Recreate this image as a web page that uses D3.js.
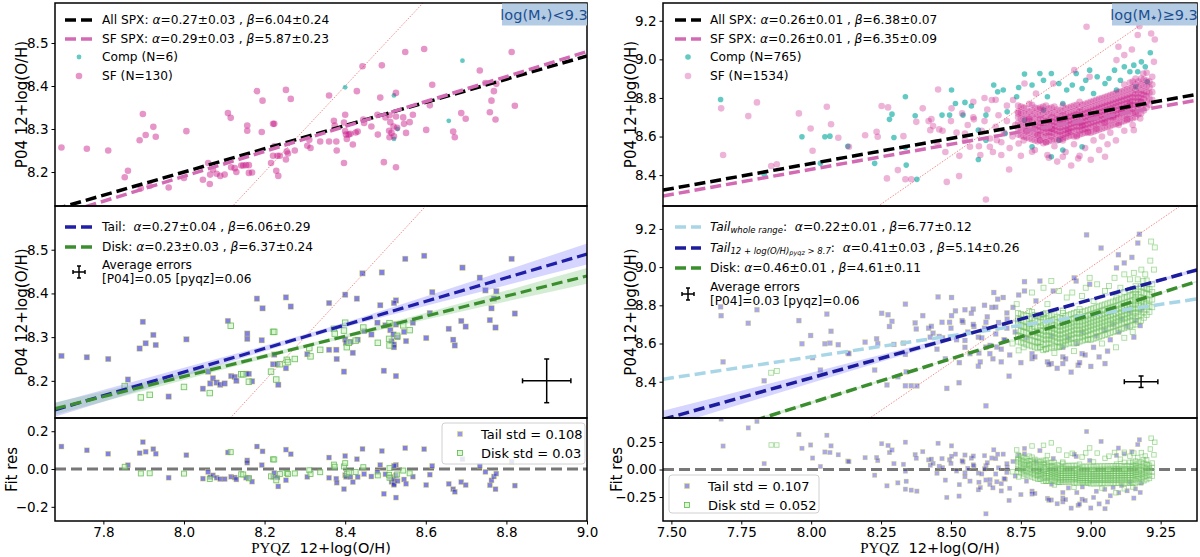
<!DOCTYPE html>
<html>
<head>
<meta charset="utf-8">
<script src="https://cdn.jsdelivr.net/npm/d3@7"></script>
<style>
body { margin: 0; background: #fff; }
svg { font-family: "DejaVu Sans", Verdana, sans-serif; }
</style>
</head>
<body>
<svg id="chart" width="1200" height="557"></svg>
<script>
// ---- fits: [alpha, alpha err, beta, beta err] ----
const leftFitAll = [0.27, 0.03, 6.04, 0.24];
const leftFitSF = [0.29, 0.03, 5.87, 0.23];
const leftFitTail = [0.27, 0.04, 6.06, 0.29];
const leftFitDisk = [0.23, 0.03, 6.37, 0.24];
const rightFitAll = [0.26, 0.01, 6.38, 0.07];
const rightFitSF = [0.26, 0.01, 6.35, 0.09];
const rightFitTailAll = [0.22, 0.01, 6.77, 0.12];
const rightFitTail = [0.41, 0.03, 5.14, 0.26];
const rightFitDisk = [0.46, 0.01, 4.61, 0.11];

const leftCounts = [6, 130];     // Comp, SF
const rightCounts = [765, 1534];
const leftErrors = [0.05, 0.06]; // [P04], [pyqz]
const rightErrors = [0.03, 0.06];
const leftStd = [0.108, 0.03];   // tail, disk
const rightStd = [0.107, 0.052];

// confidence bands (half widths)
const leftBandX = [7.68, 8.0, 8.35, 8.7, 9.0];
const leftTailBand = [0.016, 0.010, 0.005, 0.014, 0.024];
const leftDiskBand = [0.014, 0.008, 0.004, 0.010, 0.018];
const rightBandX = [7.47, 7.9, 8.3, 8.7, 9.0, 9.38];
const rightTailBand = [0.045, 0.030, 0.016, 0.006, 0.004, 0.010];
const rightDiskBand = [0.012, 0.008, 0.004, 0.002, 0.002, 0.004];

// tick labels
const leftXTicks = [7.8, 8.0, 8.2, 8.4, 8.6, 8.8, 9.0];
const leftYTicks = [8.2, 8.3, 8.4, 8.5];
const leftResTicks = [-0.2, 0, 0.2];
const rightXTicks = [7.5, 7.75, 8.0, 8.25, 8.5, 8.75, 9.0, 9.25];
const rightYTicks = [8.4, 8.6, 8.8, 9.0, 9.2];
const rightResTicks = [-0.25, 0, 0.25];

// ---- left spaxels: [pyqz, P04, S=SF / C=Comp, T=tail / D=disk] ----
const leftPts = [
[7.696,8.257,'S','T'],[7.759,8.254,'S','T'],[7.812,8.250,'S','T'],[7.898,8.335,'S','T'],[7.890,8.274,'S','T'],[7.905,8.286,'S','T'],[7.924,8.305,'S','T'],[7.930,8.282,'S','T'],[7.853,8.188,'S','D'],[7.861,8.203,'S','T'],
[7.893,8.162,'S','D'],[7.915,8.168,'S','D'],[7.962,8.164,'S','T'],[8.006,8.295,'S','T'],[8.000,8.186,'S','D'],[8.047,8.182,'S','T'],[8.060,8.221,'S','T'],[8.065,8.194,'S','T'],[8.064,8.172,'S','D'],[8.072,8.206,'S','T'],
[8.081,8.196,'S','T'],[8.090,8.191,'S','T'],[8.101,8.194,'S','T'],[8.109,8.337,'S','T'],[8.116,8.326,'S','D'],[8.117,8.211,'S','T'],[8.126,8.209,'S','T'],[8.130,8.200,'S','T'],[8.142,8.215,'S','D'],[8.147,8.215,'S','D'],
[8.154,8.216,'S','T'],[8.157,8.308,'S','T'],[8.157,8.296,'S','T'],[8.161,8.198,'S','D'],[8.161,8.216,'S','T'],[8.169,8.199,'S','T'],[8.181,8.388,'S','T'],[8.195,8.366,'S','T'],[8.193,8.293,'S','T'],[8.216,8.221,'S','D'],
[8.221,8.312,'S','D'],[8.224,8.312,'S','D'],[8.221,8.238,'S','T'],[8.229,8.203,'S','D'],[8.234,8.191,'S','T'],[8.224,8.260,'S','T'],[8.232,8.238,'S','T'],[8.238,8.238,'S','D'],[8.253,8.391,'S','T'],[8.265,8.370,'S','T'],
[8.255,8.248,'S','D'],[8.258,8.243,'S','D'],[8.253,8.229,'S','T'],[8.275,8.250,'S','D'],[8.306,8.261,'S','T'],[8.314,8.256,'S','D'],[8.311,8.275,'S','D'],[8.338,8.271,'S','D'],[8.360,8.378,'S','T'],[8.360,8.271,'S','T'],
[8.372,8.319,'S','D'],[8.374,8.308,'S','D'],[8.378,8.271,'S','T'],[8.379,8.250,'S','T'],[8.397,8.315,'S','D'],[8.397,8.221,'S','T'],[8.400,8.333,'S','D'],[8.400,8.295,'S','T'],[8.402,8.287,'S','T'],[8.404,8.277,'S','D'],
[8.409,8.287,'S','D'],[8.413,8.289,'S','T'],[8.419,8.264,'S','T'],[8.426,8.292,'S','D'],[8.429,8.388,'S','T'],[8.431,8.294,'S','T'],[8.443,8.446,'S','T'],[8.445,8.322,'S','D'],[8.447,8.314,'S','T'],[8.465,8.306,'S','T'],
[8.481,8.287,'S','D'],[8.480,8.333,'S','T'],[8.487,8.373,'S','T'],[8.491,8.448,'S','T'],[8.496,8.223,'S','T'],[8.500,8.327,'S','T'],[8.509,8.296,'S','D'],[8.510,8.332,'S','D'],[8.512,8.316,'S','T'],[8.510,8.281,'S','D'],
[8.515,8.291,'S','T'],[8.520,8.306,'S','T'],[8.521,8.283,'S','T'],[8.526,8.384,'S','T'],[8.526,8.329,'S','T'],[8.526,8.211,'S','T'],[8.529,8.303,'S','D'],[8.544,8.327,'S','D'],[8.546,8.312,'S','T'],[8.549,8.479,'S','T'],
[8.551,8.291,'S','T'],[8.560,8.316,'S','D'],[8.568,8.333,'S','T'],[8.596,8.486,'S','T'],[8.601,8.298,'S','T'],[8.610,8.355,'S','T'],[8.616,8.403,'S','T'],[8.668,8.294,'S','T'],[8.672,8.281,'S','T'],[8.688,8.337,'S','T'],
[8.699,8.324,'S','T'],[8.734,8.436,'S','T'],[8.748,8.407,'S','T'],[8.759,8.339,'S','T'],[8.763,8.366,'S','T'],[8.769,8.388,'S','T'],[8.773,8.322,'S','T'],[8.775,8.405,'S','T'],[8.813,8.479,'S','T'],[8.821,8.354,'S','T'],
[8.400,8.397,'C','T'],[8.521,8.378,'C','T'],[8.521,8.277,'C','T'],[8.657,8.319,'C','T'],[8.691,8.459,'C','T'],[8.530,8.300,'C','T']
];

// ---- right spaxels ----
const rightComp = [
[7.676,8.792,'T'],[7.832,8.405,'T'],[7.967,8.599,'T'],[8.033,8.461,'T'],[8.049,8.599,'T'],[8.067,8.602,'T'],[8.131,8.550,'T'],[8.227,8.461,'T'],[8.280,8.689,'T'],[8.289,8.716,'T'],
[8.296,8.595,'T'],[8.337,8.806,'T'],[8.337,8.543,'T'],[8.340,8.452,'T'],[8.372,8.708,'T'],[8.378,8.378,'T'],[8.468,8.711,'T'],[8.502,8.841,'T'],[8.516,8.771,'T'],[8.495,8.711,'T'],
[8.543,8.711,'T'],[8.550,8.777,'T'],[8.573,8.758,'T'],[8.598,8.481,'T'],[8.625,8.711,'T'],[8.653,8.867,'T'],[8.667,8.832,'T'],[8.687,8.841,'T'],[8.701,8.728,'T'],[8.735,8.806,'D'],
[8.742,8.854,'T'],[8.763,8.924,'T'],[8.790,8.867,'D'],[8.818,8.927,'T'],[8.831,8.892,'D'],[8.845,8.806,'D'],[8.859,8.927,'D'],[8.886,8.875,'D'],[8.914,8.841,'D'],[8.934,8.867,'D'],
[8.948,8.927,'T'],[8.969,8.849,'D'],[8.982,8.892,'D'],[8.996,8.944,'D'],[9.023,8.910,'D'],[9.051,8.875,'D'],[9.065,8.901,'D'],[9.085,8.944,'D'],[9.106,8.892,'D'],[9.120,8.962,'D'],
[9.140,8.936,'D'],[9.154,8.970,'D'],[9.168,8.936,'D'],[9.181,8.987,'D'],[9.195,8.962,'D'],[9.213,9.034,'D'],[9.202,8.884,'D'],[9.161,8.858,'D'],[9.092,8.841,'D'],[9.010,8.823,'D'],
[8.900,8.771,'D'],[8.831,8.737,'D'],[8.763,8.685,'D'],[8.694,8.616,'T'],[8.625,8.581,'T'],[8.790,8.547,'T'],[8.859,8.495,'T'],[8.900,8.530,'T'],[8.969,8.547,'T'],[8.886,8.581,'D'],
[8.598,8.633,'T']
];
const rightSF = [
[7.678,8.746,'T'],[7.685,8.504,'T'],[7.775,8.706,'T'],[7.806,8.777,'T'],[7.857,8.447,'D'],[7.877,8.456,'D'],[7.956,8.720,'T'],[7.998,8.642,'T'],[8.005,8.526,'T'],[8.056,8.754,'T'],
[8.071,8.664,'T'],[8.097,8.594,'T'],[8.135,8.547,'T'],[8.193,8.607,'T'],[8.234,8.625,'T'],[8.238,8.599,'T'],[8.252,8.758,'T'],[8.275,8.751,'T'],[8.271,8.383,'T'],[8.310,8.426,'T'],
[8.330,8.602,'T'],[8.337,8.379,'T'],[8.358,8.379,'T'],[8.376,8.676,'T'],[8.399,8.746,'T'],[8.420,8.680,'T'],[8.426,8.633,'T'],[8.436,8.654,'T'],[8.454,8.844,'T'],[8.458,8.637,'T'],
[8.485,8.365,'T'],[8.502,8.746,'T'],[8.529,8.395,'T'],[8.550,8.616,'T'],[8.568,8.547,'T'],[8.582,8.689,'T'],[8.605,8.504,'T'],[8.625,8.274,'T'],[8.639,8.547,'T'],[8.646,8.789,'T'],
[8.664,8.581,'T'],[8.680,8.504,'T'],[8.708,8.429,'T'],[8.722,8.789,'T'],[8.742,8.564,'D'],[8.763,8.875,'T'],[8.790,8.521,'T'],[8.804,8.823,'T'],[8.818,8.581,'D'],[8.845,8.504,'T'],
[8.866,8.875,'T'],[8.900,8.495,'T'],[8.941,8.944,'T'],[8.955,8.486,'T'],[8.985,9.169,'T'],[8.996,8.910,'T'],[9.037,9.100,'T'],[9.051,8.495,'T'],[9.092,8.996,'T'],[9.099,9.065,'T'],
[9.120,9.022,'T'],[9.147,9.051,'T'],[9.154,8.633,'T'],[9.168,9.126,'T'],[9.174,9.172,'T'],[9.188,8.927,'D'],[9.216,9.134,'D'],[9.229,9.103,'D'],[9.226,8.987,'D'],[9.177,8.694,'T'],
[8.52,8.62,'T'],[8.55,8.58,'T'],[8.56,8.66,'T'],[8.58,8.70,'T'],[8.60,8.55,'T'],[8.61,8.63,'T'],[8.62,8.68,'T'],[8.63,8.74,'T'],[8.64,8.59,'T'],[8.65,8.52,'T'],
[8.66,8.65,'T'],[8.67,8.71,'T'],[8.68,8.57,'T'],[8.69,8.62,'T'],[8.70,8.68,'T'],[8.70,8.76,'T'],[8.71,8.54,'T'],[8.72,8.60,'D'],[8.73,8.66,'T'],[8.74,8.72,'D'],
[8.75,8.50,'T'],[8.76,8.58,'D'],[8.77,8.63,'T'],[8.78,8.69,'D'],[8.80,8.53,'T'],[8.81,8.61,'D'],[8.82,8.75,'T'],[8.84,8.57,'D'],[8.85,8.49,'T'],[8.86,8.64,'T'],
[8.87,8.55,'D'],[8.88,8.47,'T'],[8.90,8.58,'T'],[8.91,8.52,'T'],[8.92,8.63,'T'],[8.93,8.45,'T'],[8.94,8.56,'D'],[8.95,8.60,'T'],[8.96,8.50,'T'],[8.97,8.66,'T'],
[8.98,8.54,'T'],[8.99,8.62,'D'],[9.00,8.48,'T'],[9.01,8.58,'T'],[9.02,8.64,'T'],[9.03,8.53,'T'],[9.04,8.60,'D'],[9.05,8.67,'T'],[9.06,8.56,'T'],[9.07,8.62,'T'],
[9.08,8.70,'T'],[9.09,8.58,'D'],[9.10,8.66,'T'],[9.11,8.73,'T'],[9.12,8.63,'D'],[9.13,8.69,'T'],[9.14,8.77,'T'],[9.15,8.66,'D'],[9.16,8.72,'T'],[9.18,8.78,'T'],
[8.58,8.78,'T'],[8.62,8.80,'T'],[8.66,8.79,'T'],[8.54,8.72,'T'],[8.50,8.68,'T'],[8.47,8.63,'T'],[8.45,8.57,'T'],[8.43,8.69,'T'],[8.48,8.52,'T'],[8.53,8.50,'T']
];
// dense SF disk core: pyqz column -> P04 values
const rightCore = [
[8.74,[8.61,8.64,8.67,8.70,8.73,8.76]],
[8.75,[8.605,8.635,8.665,8.695,8.725,8.755]],
[8.76,[8.60,8.63,8.66,8.69,8.72,8.75]],
[8.77,[8.595,8.625,8.655,8.685,8.715,8.745]],
[8.78,[8.59,8.62,8.65,8.68,8.70,8.73,8.77]],
[8.79,[8.585,8.615,8.645,8.675,8.705,8.735,8.765]],
[8.80,[8.58,8.61,8.64,8.66,8.69,8.72,8.75]],
[8.81,[8.575,8.605,8.635,8.655,8.685,8.715,8.745]],
[8.82,[8.58,8.61,8.63,8.65,8.67,8.69,8.71,8.74]],
[8.83,[8.565,8.595,8.625,8.645,8.665,8.695,8.725,8.755]],
[8.84,[8.57,8.60,8.62,8.64,8.66,8.68,8.70,8.73,8.76]],
[8.85,[8.575,8.605,8.625,8.645,8.665,8.685,8.715,8.745]],
[8.86,[8.58,8.60,8.62,8.64,8.66,8.68,8.70,8.72,8.75]],
[8.87,[8.585,8.615,8.635,8.655,8.675,8.695,8.725,8.755]],
[8.88,[8.58,8.61,8.63,8.65,8.67,8.69,8.71,8.74]],
[8.89,[8.585,8.605,8.625,8.645,8.665,8.685,8.705,8.735]],
[8.90,[8.59,8.61,8.63,8.65,8.67,8.69,8.71,8.73,8.76]],
[8.91,[8.595,8.615,8.635,8.655,8.675,8.695,8.715,8.745]],
[8.92,[8.60,8.62,8.64,8.66,8.68,8.70,8.72,8.75]],
[8.93,[8.605,8.625,8.645,8.665,8.685,8.705,8.725,8.755]],
[8.94,[8.60,8.63,8.65,8.67,8.69,8.71,8.73,8.76]],
[8.95,[8.605,8.635,8.655,8.675,8.695,8.715,8.735,8.765]],
[8.96,[8.61,8.63,8.65,8.67,8.69,8.71,8.73,8.75,8.78]],
[8.97,[8.615,8.635,8.655,8.675,8.695,8.715,8.735,8.765]],
[8.98,[8.62,8.64,8.66,8.68,8.70,8.72,8.74,8.77]],
[8.99,[8.625,8.645,8.665,8.685,8.705,8.725,8.745,8.775]],
[9.00,[8.62,8.65,8.67,8.69,8.71,8.73,8.75,8.78]],
[9.01,[8.625,8.655,8.675,8.695,8.715,8.735,8.755,8.785]],
[9.02,[8.63,8.66,8.68,8.70,8.72,8.74,8.76,8.79]],
[9.03,[8.635,8.665,8.685,8.705,8.725,8.745,8.765,8.795]],
[9.04,[8.64,8.67,8.69,8.71,8.73,8.75,8.77,8.80]],
[9.05,[8.645,8.675,8.695,8.715,8.735,8.755,8.775,8.805]],
[9.06,[8.65,8.68,8.70,8.72,8.74,8.76,8.78,8.81]],
[9.07,[8.655,8.685,8.705,8.725,8.745,8.765,8.785,8.815]],
[9.08,[8.66,8.69,8.71,8.73,8.75,8.77,8.79,8.82]],
[9.09,[8.665,8.695,8.715,8.735,8.755,8.775,8.795,8.825]],
[9.10,[8.67,8.70,8.72,8.74,8.76,8.78,8.80,8.83]],
[9.11,[8.675,8.705,8.725,8.745,8.765,8.785,8.805,8.835]],
[9.12,[8.68,8.71,8.73,8.75,8.77,8.79,8.81,8.84,8.87]],
[9.13,[8.685,8.715,8.735,8.755,8.775,8.795,8.815,8.845]],
[9.14,[8.69,8.72,8.74,8.76,8.78,8.80,8.82,8.85,8.88]],
[9.15,[8.695,8.725,8.745,8.765,8.785,8.805,8.825,8.855,8.885]],
[9.16,[8.70,8.73,8.76,8.78,8.80,8.82,8.84,8.87,8.90]],
[9.17,[8.715,8.745,8.765,8.785,8.805,8.825,8.855,8.885]],
[9.18,[8.72,8.75,8.78,8.80,8.82,8.84,8.87,8.90]],
[9.19,[8.735,8.765,8.795,8.815,8.835,8.865,8.895]],
[9.20,[8.75,8.78,8.81,8.83,8.86,8.89,8.93]],
[9.21,[8.765,8.795,8.825,8.855,8.885]],
[9.22,[8.79,8.83,8.87,8.91]]
];

// ---- layout ----
const svg = d3.select('#chart');
const defs = svg.append('defs');
const rows = [[3, 206], [206, 418], [418, 521]];
const xL = d3.scaleLinear().domain([7.68, 9.0]).range([55, 587]);
const xR = d3.scaleLinear().domain([7.47, 9.38]).range([663, 1197]);

const pink = '#c71585', teal = '#20b2aa';
const tailFill = '#3333cc', tailEdge = '#e6e05a';
const diskEdge = '#5cb84e', diskFill = '#c8f0bc';
const legendSize = 12.2;
let clipN = 0;

function panel(x, yDom, row) {
  const r = rows[row];
  const y = d3.scaleLinear().domain(yDom).range([r[1], r[0]]);
  const id = 'clip' + (clipN++);
  defs.append('clipPath').attr('id', id).append('rect')
    .attr('x', x.range()[0]).attr('y', r[0])
    .attr('width', x.range()[1] - x.range()[0]).attr('height', r[1] - r[0]);
  const g = svg.append('g');
  const plot = g.append('g').attr('clip-path', `url(#${id})`);
  return { x, y, g, plot, r };
}

function frame(p) {
  p.g.append('rect')
    .attr('x', p.x.range()[0]).attr('y', p.r[0])
    .attr('width', p.x.range()[1] - p.x.range()[0]).attr('height', p.r[1] - p.r[0])
    .attr('fill', 'none').attr('stroke', '#000').attr('stroke-width', 1.5);
}

function yAxis(p, ticks, fmt) {
  const a = p.g.append('g').attr('transform', `translate(${p.x.range()[0]},0)`)
    .call(d3.axisLeft(p.y).tickValues(ticks).tickFormat(d3.format(fmt)).tickSize(3.5).tickPadding(3));
  a.select('.domain').remove();
  a.attr('font-size', 13.5).attr('font-family', null);
  a.selectAll('line').attr('stroke-width', 1);
}

function xAxis(p, ticks, fmt) {
  const a = p.g.append('g').attr('transform', `translate(0,${p.r[1]})`)
    .call(d3.axisBottom(p.x).tickValues(ticks).tickFormat(d3.format(fmt)).tickSize(3.5).tickPadding(3));
  a.select('.domain').remove();
  a.attr('font-size', 13.5).attr('font-family', null);
}

function yLabel(p, text, cx) {
  p.g.append('text')
    .attr('transform', `translate(${cx},${(p.r[0] + p.r[1]) / 2}) rotate(-90)`)
    .attr('text-anchor', 'middle').attr('dominant-baseline', 'central')
    .attr('font-size', 15).text(text);
}

function xLabel(p) {
  const t = p.g.append('text')
    .attr('x', (p.x.range()[0] + p.x.range()[1]) / 2).attr('y', 553)
    .attr('text-anchor', 'middle').attr('font-size', 14.5).style('white-space', 'pre');
  t.append('tspan').attr('font-family', '"Liberation Serif", "DejaVu Serif", serif').attr('font-size', 15).text('PYQZ');
  t.append('tspan').text('  12+log(O/H)');
}

function fitLine(p, f, color, width) {
  const d = p.x.domain();
  p.plot.append('path')
    .datum(d)
    .attr('d', d3.line().x(v => p.x(v)).y(v => p.y(f[0] * v + f[2])))
    .attr('fill', 'none').attr('stroke', color).attr('stroke-width', width)
    .attr('stroke-dasharray', '11,5');
}

function band(p, f, bx, hw, color, op) {
  const pts = bx.map((v, i) => [v, hw[i]]);
  p.plot.append('path')
    .datum(pts)
    .attr('d', d3.area().curve(d3.curveMonotoneX)
      .x(d => p.x(d[0]))
      .y0(d => p.y(f[0] * d[0] + f[2] - d[1]))
      .y1(d => p.y(f[0] * d[0] + f[2] + d[1])))
    .attr('fill', color).attr('opacity', op);
}

function oneToOne(p) {
  const d = p.x.domain();
  p.plot.append('line')
    .attr('x1', p.x(d[0])).attr('y1', p.y(d[0]))
    .attr('x2', p.x(d[1])).attr('y2', p.y(d[1]))
    .attr('stroke', '#f07070').attr('stroke-width', 0.8).attr('stroke-dasharray', '1.5,1.5');
}

function dots(p, pts, color, op, r) {
  p.plot.append('g').selectAll('circle').data(pts).join('circle')
    .attr('cx', d => p.x(d[0])).attr('cy', d => p.y(d[1]))
    .attr('r', r).attr('fill', color).attr('fill-opacity', op);
}

function squares(p, pts, yv, style, s) {
  p.plot.append('g').selectAll('rect').data(pts).join('rect')
    .attr('x', d => p.x(d[0]) - s / 2).attr('y', d => p.y(yv(d)) - s / 2)
    .attr('width', s).attr('height', s)
    .attr('fill', style.fill).attr('fill-opacity', style.fo)
    .attr('stroke', style.stroke).attr('stroke-opacity', style.so).attr('stroke-width', style.sw);
}

function zeroLine(p) {
  const d = p.x.domain();
  p.plot.append('line')
    .attr('x1', p.x(d[0])).attr('x2', p.x(d[1]))
    .attr('y1', p.y(0)).attr('y2', p.y(0))
    .attr('stroke', '#777').attr('stroke-width', 3).attr('stroke-dasharray', '11,5');
}

function errCross(g, cx, cy, hx, hy, cap, w) {
  const L = (x1, y1, x2, y2) => g.append('line')
    .attr('x1', x1).attr('y1', y1).attr('x2', x2).attr('y2', y2)
    .attr('stroke', '#000').attr('stroke-width', w);
  L(cx - hx, cy, cx + hx, cy);
  L(cx, cy - hy, cx, cy + hy);
  L(cx - hx, cy - cap, cx - hx, cy + cap);
  L(cx + hx, cy - cap, cx + hx, cy + cap);
  L(cx - cap, cy - hy, cx + cap, cy - hy);
  L(cx - cap, cy + hy, cx + cap, cy + hy);
}

function addPart(parent, part) {
  if (typeof part === 'string') { parent.append('tspan').text(part); return; }
  const s = parent.append('tspan');
  if (part.it) s.attr('font-style', 'italic');
  if (part.sub) s.attr('baseline-shift', part.sub).attr('font-size', part.size);
  if (part.kids) part.kids.forEach(k => addPart(s, k)); else s.text(part.t);
}

function rich(g, x, y, parts, size) {
  const t = g.append('text').attr('x', x).attr('y', y).attr('font-size', size)
    .attr('dominant-baseline', 'central').style('white-space', 'pre');
  parts.forEach(pt => addPart(t, pt));
  return t;
}

function fitParts(name, f) {
  return name.concat([{ t: 'α', it: true }, `=${f[0].toFixed(2)}±${f[1].toFixed(2)} , `,
    { t: 'β', it: true }, `=${f[2].toFixed(2)}±${f[3].toFixed(2)}`]);
}

function legLine(g, x1, x2, y, color) {
  g.append('line').attr('x1', x1).attr('x2', x2).attr('y1', y).attr('y2', y)
    .attr('stroke', color).attr('stroke-width', 3.5).attr('stroke-dasharray', '11,5');
}

function massTag(p, parts) {
  const x1 = p.x.range()[1];
  p.g.append('rect').attr('x', x1 - 85).attr('y', p.r[0] + 0.5).attr('width', 85).attr('height', 22)
    .attr('fill', '#b3cbe3');
  rich(p.g, x1 - 43, p.r[0] + 12, parts, 14.5).attr('text-anchor', 'middle').attr('fill', '#1d4f91');
}

function stdLegend(p, bx, by, bw, bh, std) {
  const g = p.g;
  g.append('rect').attr('x', bx).attr('y', by).attr('width', bw).attr('height', bh).attr('rx', 3)
    .attr('fill', '#fff').attr('fill-opacity', 0.8).attr('stroke', '#d0d0d0');
  const mx = bx + 18, tx = bx + 39;
  g.append('rect').attr('x', mx - 2.5).attr('y', by + 11 - 2.5).attr('width', 5).attr('height', 5)
    .attr('fill', tailFill).attr('fill-opacity', 0.5).attr('stroke', tailEdge).attr('stroke-width', 0.5);
  g.append('rect').attr('x', mx - 2.5).attr('y', by + 30 - 2.5).attr('width', 5).attr('height', 5)
    .attr('fill', diskFill).attr('fill-opacity', 0.6).attr('stroke', diskEdge).attr('stroke-width', 0.8);
  rich(g, tx, by + 11, [`Tail std = ${std[0]}`], 13);
  rich(g, tx, by + 30, [`Disk std = ${std[1]}`], 13);
}

const resid = f => d => d[1] - (f[0] * d[0] + f[2]);

// =================== LEFT FIGURE ===================
const lt = panel(xL, [8.121, 8.593], 0);
const lm = panel(xL, [8.115, 8.60], 1);
const lb = panel(xL, [-0.275, 0.27], 2);

// top: all spaxels by class
oneToOne(lt);
dots(lt, leftPts.filter(d => d[2] === 'C'), teal, 0.7, 2.4);
dots(lt, leftPts.filter(d => d[2] === 'S'), pink, 0.45, 3.3);
fitLine(lt, leftFitAll, '#000', 3.5);
fitLine(lt, leftFitSF, '#d36bb4', 3.5);

// middle: tail vs disk
const tailStyleL = { fill: tailFill, fo: 0.62, stroke: tailEdge, so: 0.7, sw: 0.6 };
const diskStyleL = { fill: diskFill, fo: 0.5, stroke: diskEdge, so: 0.8, sw: 0.9 };
oneToOne(lm);
const lTail = leftPts.filter(d => d[3] === 'T'), lDisk = leftPts.filter(d => d[3] === 'D');
squares(lm, lTail, d => d[1], tailStyleL, 5.5);
squares(lm, lDisk, d => d[1], diskStyleL, 5.5);
band(lm, leftFitTail, leftBandX, leftTailBand, '#7373ff', 0.3);
band(lm, leftFitDisk, leftBandX, leftDiskBand, '#6fbf6f', 0.3);
fitLine(lm, leftFitTail, '#1f1fa8', 3.2);
fitLine(lm, leftFitDisk, '#3b8e2e', 3.2);
errCross(lm.g, lm.x(8.9), lm.y(8.2), lm.x(8.9 + leftErrors[1]) - lm.x(8.9), lm.y(8.2) - lm.y(8.2 + leftErrors[0]), 2.5, 1.5);

// bottom: residuals
zeroLine(lb);
squares(lb, lTail, resid(leftFitTail), tailStyleL, 5);
squares(lb, lDisk, resid(leftFitDisk), diskStyleL, 5);

[lt, lm, lb].forEach(frame);
yAxis(lt, leftYTicks, '.1f');
yAxis(lm, leftYTicks, '.1f');
yAxis(lb, leftResTicks, '.1f');
xAxis(lb, leftXTicks, '.1f');
yLabel(lt, 'P04 12+log(O/H)', 22);
yLabel(lm, 'P04 12+log(O/H)', 22);
yLabel(lb, 'Fit res', 12);
xLabel(lb);

// legends
legLine(lt.g, 65, 92, 20, '#000');
rich(lt.g, 102, 20, fitParts(['All SPX: '], leftFitAll), legendSize);
legLine(lt.g, 65, 92, 39, '#d36bb4');
rich(lt.g, 102, 39, fitParts(['SF SPX: '], leftFitSF), legendSize);
lt.g.append('circle').attr('cx', 79).attr('cy', 57).attr('r', 2.4).attr('fill', teal).attr('fill-opacity', 0.7);
rich(lt.g, 102, 57, [`Comp (N=${leftCounts[0]})`], legendSize);
lt.g.append('circle').attr('cx', 79).attr('cy', 76).attr('r', 3.3).attr('fill', pink).attr('fill-opacity', 0.45);
rich(lt.g, 102, 76, [`SF (N=${leftCounts[1]})`], legendSize);
massTag(lt, ['log(M', { t: '★', sub: -3, size: 7 }, ')<9.3']);

legLine(lm.g, 65, 92, 227, '#1f1fa8');
rich(lm.g, 102, 227, fitParts(['Tail:  '], leftFitTail), legendSize);
legLine(lm.g, 65, 92, 247, '#3b8e2e');
rich(lm.g, 102, 247, fitParts(['Disk: '], leftFitDisk), legendSize);
errCross(lm.g, 79, 272, 6, 6, 2, 1.5);
rich(lm.g, 102, 265, ['Average errors'], legendSize);
rich(lm.g, 102, 279, [`[P04]=${leftErrors[0].toFixed(2)} [pyqz]=${leftErrors[1].toFixed(2)}`], legendSize);

stdLegend(lb, 442, 423, 143, 41, leftStd);

// =================== RIGHT FIGURE ===================
const rt = panel(xR, [8.24, 9.292], 0);
const rm = panel(xR, [8.21, 9.32], 1);
const rb = panel(xR, [-0.468, 0.468], 2);

const coreTable = [];
rightCore.forEach(c => c[1].forEach(v => coreTable.push([c[0], v, 'D'])));
const rSFAll = rightSF.concat(coreTable);
const rAll = rightComp.concat(rSFAll);
const rTail = rAll.filter(d => d[2] === 'T');
const rDisk = rAll.filter(d => d[2] === 'D');

oneToOne(rt);
dots(rt, rightComp, teal, 0.7, 2.8);
dots(rt, rSFAll, pink, 0.32, 3.3);
fitLine(rt, rightFitAll, '#000', 3.5);
fitLine(rt, rightFitSF, '#d36bb4', 3.5);

const tailStyleR = { fill: tailFill, fo: 0.42, stroke: tailEdge, so: 0.6, sw: 0.5 };
const diskStyleR = { fill: diskFill, fo: 0.2, stroke: diskEdge, so: 0.55, sw: 0.8 };
oneToOne(rm);
squares(rm, rTail, d => d[1], tailStyleR, 5);
squares(rm, rDisk, d => d[1], diskStyleR, 5);
band(rm, rightFitTail, rightBandX, rightTailBand, '#7373ff', 0.3);
band(rm, rightFitDisk, rightBandX, rightDiskBand, '#6fbf6f', 0.3);
fitLine(rm, rightFitTailAll, '#a8d6e6', 3.5);
fitLine(rm, rightFitTail, '#1c1c9c', 3.5);
fitLine(rm, rightFitDisk, '#3b8e2e', 3.5);
errCross(rm.g, rm.x(9.18), rm.y(8.4), rm.x(9.18 + rightErrors[1]) - rm.x(9.18), rm.y(8.4) - rm.y(8.4 + rightErrors[0]), 2.5, 1.5);

zeroLine(rb);
squares(rb, rTail, resid(rightFitTail), tailStyleR, 4.5);
squares(rb, rDisk, resid(rightFitDisk), diskStyleR, 4.5);

[rt, rm, rb].forEach(frame);
yAxis(rt, rightYTicks, '.1f');
yAxis(rm, rightYTicks, '.1f');
yAxis(rb, rightResTicks, '.2f');
xAxis(rb, rightXTicks, '.2f');
yLabel(rt, 'P04 12+log(O/H)', 631);
yLabel(rm, 'P04 12+log(O/H)', 631);
yLabel(rb, 'Fit res', 617);
xLabel(rb);

legLine(rt.g, 675, 701, 20, '#000');
rich(rt.g, 710, 20, fitParts(['All SPX: '], rightFitAll), legendSize);
legLine(rt.g, 675, 701, 39, '#d36bb4');
rich(rt.g, 710, 39, fitParts(['SF SPX: '], rightFitSF), legendSize);
rt.g.append('circle').attr('cx', 688).attr('cy', 57).attr('r', 2.8).attr('fill', teal).attr('fill-opacity', 0.7);
rich(rt.g, 710, 57, [`Comp (N=${rightCounts[0]})`], legendSize);
rt.g.append('circle').attr('cx', 688).attr('cy', 76).attr('r', 3.3).attr('fill', pink).attr('fill-opacity', 0.3);
rich(rt.g, 710, 76, [`SF (N=${rightCounts[1]})`], legendSize);
massTag(rt, ['log(M', { t: '★', sub: -3, size: 7 }, ')≥9.3']);

legLine(rm.g, 675, 701, 227, '#a8d6e6');
rich(rm.g, 710, 227, fitParts([{ t: 'Tail', it: true }, { t: 'whole range', it: true, sub: -3, size: 8.5 }, ':  '], rightFitTailAll), legendSize);
legLine(rm.g, 675, 701, 248, '#1c1c9c');
rich(rm.g, 710, 248, fitParts([{ t: 'Tail', it: true },
  { it: true, sub: -3, size: 8.5, kids: ['12 + log(O/H)', { t: 'pyqz', sub: -2, size: 6.5 }, ' > 8.7'] }, ':  '], rightFitTail), legendSize);
legLine(rm.g, 675, 701, 268, '#3b8e2e');
rich(rm.g, 710, 268, fitParts(['Disk: '], rightFitDisk), legendSize);
errCross(rm.g, 688, 294, 6, 6, 2, 1.5);
rich(rm.g, 710, 287, ['Average errors'], legendSize);
rich(rm.g, 710, 301, [`[P04]=${rightErrors[0].toFixed(2)} [pyqz]=${rightErrors[1].toFixed(2)}`], legendSize);

stdLegend(rb, 669, 475, 150, 38, rightStd);
</script>
</body>
</html>
